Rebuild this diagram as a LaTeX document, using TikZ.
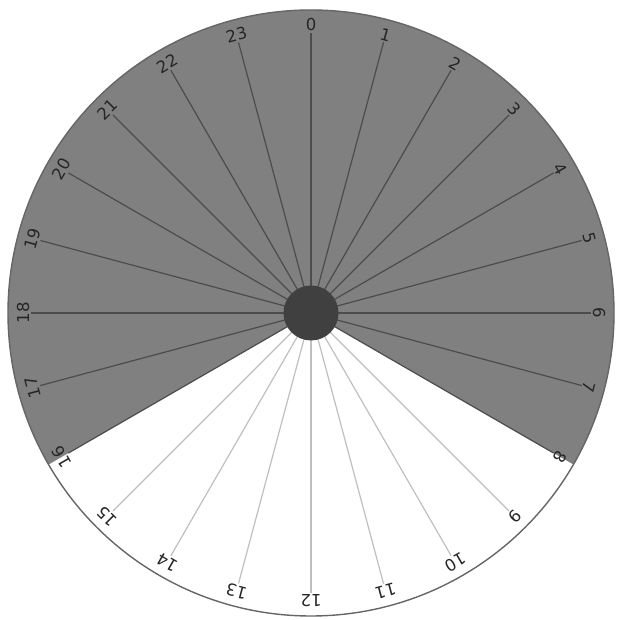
\documentclass[tikz,border=0pt]{standalone}
\usepackage{fontspec}
\setmainfont{DejaVu Sans}
\usetikzlibrary{calc}
\begin{document}
\begin{tikzpicture}[x=1pt,y=1pt,
  hourlbl/.style={font=\fontsize{16.5}{16.5}\selectfont, text=black!85, inner sep=1.5pt},
  darkline/.style={draw=black!70, line width=1.2pt},
  lightline/.style={draw=black!25, line width=1.2pt}]
\useasboundingbox (0,0) rectangle (616,620);
\coordinate (c) at (311,307);
\fill[black!50] (c) -- ++(-30:303) arc[start angle=-30, end angle=210, radius=303] -- cycle;
\draw[black!60, line width=1.4pt] (c) circle[radius=303];
\foreach \h in {0,...,23} {
  \pgfmathsetmacro{\ang}{90-15*\h}
  \pgfmathsetmacro{\rot}{-15*\h}
  \node[hourlbl, rotate=\rot] (h\h) at ($(c)+(\ang:288)$) {\h};
  \ifnum\h>8 \ifnum\h<16
    \draw[lightline] (c) -- (h\h);
  \else
    \draw[darkline] (c) -- (h\h);
  \fi\else
    \draw[darkline] (c) -- (h\h);
  \fi
}
\node[circle, fill=black!75, minimum size=55pt, inner sep=0pt] (hub) at (c) {};
\end{tikzpicture}
\end{document}
